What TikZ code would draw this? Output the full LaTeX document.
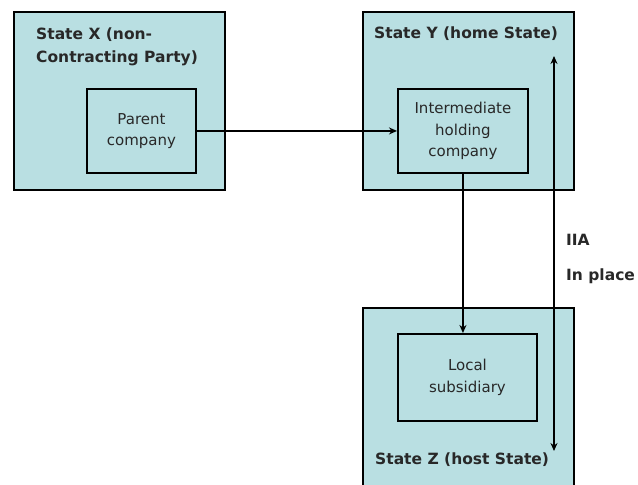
\documentclass[tikz,border=0pt]{standalone}
\usepackage{fontspec}
\setmainfont{DejaVu Sans}
\usetikzlibrary{arrows.meta, positioning}
\definecolor{statefill}{RGB}{185,223,226}
\definecolor{inktext}{RGB}{40,40,40}

\begin{document}
\begin{tikzpicture}[x=1pt,y=-1pt,
    >={Stealth[length=8pt,width=7pt]},
    country/.style={draw, line width=2.2pt, fill=statefill, anchor=north west, inner sep=0pt, minimum width=211pt, minimum height=178pt},
    firm/.style={draw, line width=1.9pt, fill=statefill, anchor=north west, inner sep=0pt, align=center, text=inktext, font=\fontsize{15}{21.5}\selectfont},
    title/.style={anchor=north west, inner sep=0pt, align=left, text=inktext, font=\bfseries\fontsize{15.5}{23}\selectfont},
    link/.style={line width=1.8pt}]
    \path[use as bounding box, clip] (0,0) rectangle (638,485);

    \node[country]       (st_x)    at (13,11)                {};
    \node[country]       (st_y)    at (362,11)               {};
    \node[country, minimum height=200pt] (st_z) at (362,307) {};

    \node[title]         (lab_x)   at (36,28)                {State X (non-\\Contracting Party)};
    \node[title]         (lab_y)   at (374,27)               {State Y (home State)};
    \node[title]         (lab_z)   at (375,453)              {State Z (host State)};

    \node[firm, minimum width=109pt, minimum height=84pt]  (parent) at (86,88)   {Parent\\company};
    \node[firm, minimum width=130pt, minimum height=84pt]  (interm) at (397,88)  {Intermediate\\holding\\company};
    \node[firm, minimum width=139pt, minimum height=87pt]  (local)  at (397,333) {Local\\subsidiary};

    \coordinate (iia_top) at (554,56);
    \coordinate (iia_bot) at (554,451);
    \node[title]         (iia)     at (566,234)              {IIA};
    \node[title]         (inplace) at (566,269)              {In place};

    \draw[link, ->] (parent.east) -- (interm.west);
    \draw[link, ->] (interm.south) -- (interm.south |- local.north);
    \draw[link, <->] (iia_top) -- (iia_bot);
\end{tikzpicture}
\end{document}
